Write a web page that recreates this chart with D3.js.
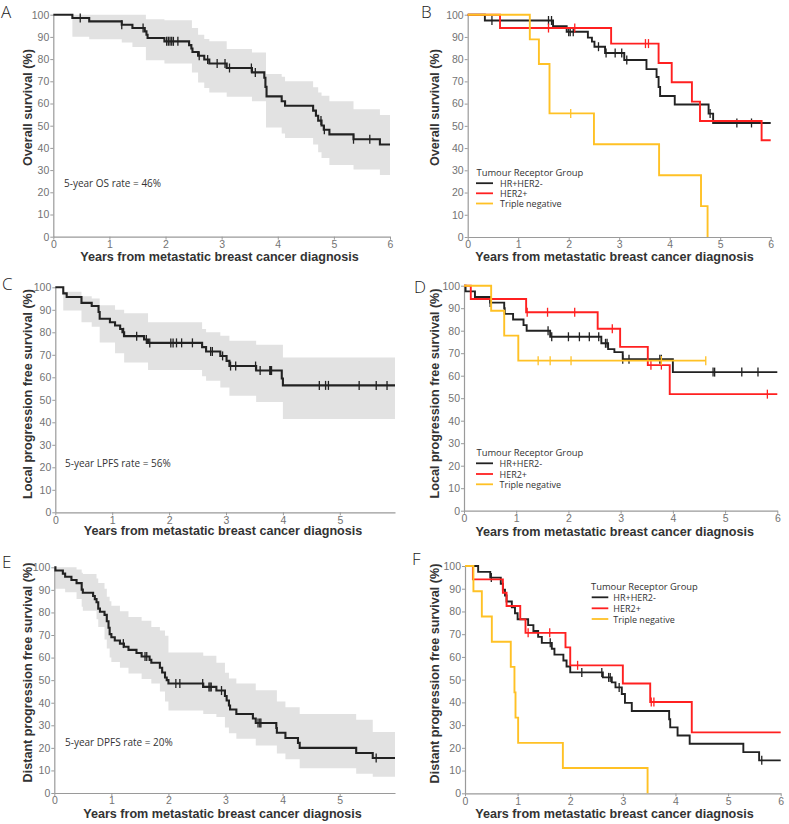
<!DOCTYPE html>
<html><head><meta charset="utf-8">
<script src="https://cdn.jsdelivr.net/npm/d3@7"></script>
<style>body{margin:0;background:#fff;} svg{display:block;}</style>
</head><body><svg id="c" width="789" height="824"></svg>
<script>
// ---------- DATA ----------
const xLabel = "Years from metastatic breast cancer diagnosis";
const groupNames = ["HR+HER2-", "HER2+", "Triple negative"];
const legendTitle = "Tumour Receptor Group";
const yTicks = [0,10,20,30,40,50,60,70,80,90,100];
const xTicksFull = [0,1,2,3,4,5,6];
const xTicksShort = [0,1,2,3,4,5];

// Panel A: overall survival, all patients
const osAllT = [0.34,0.64,1.22,1.41,1.63,1.66,1.68,1.98,2.42,2.46,2.48,2.58,2.69,2.78,3.09,3.54,3.76,3.78,3.80,4.07,4.13,4.63,4.68,4.72,4.78,4.82,4.92,5.35,5.82];
const osAllS = [98.5,97.0,95.5,94.0,92.5,91.0,89.5,88.0,86.3,84.8,83.2,81.5,79.8,78.0,76.0,74.0,71.6,67.5,63.2,61.0,59.0,56.8,54.5,52.3,50.1,48.2,46.1,43.9,41.5];
const osAllCens = [0.48,1.22,1.60,2.02,2.05,2.08,2.11,2.14,2.22,2.60,2.75,2.92,3.06,3.14,3.53,3.60,4.77,4.83,5.35,5.64];
const osAllCiT = [0,0.34,0.64,1.22,1.41,1.65,1.98,2.47,2.58,2.69,2.78,3.09,3.54,3.79,4.07,4.13,4.63,4.72,4.78,4.92,5.35,5.82];
const osAllCiLo = [100,90.1,88.9,87.5,85.5,79.5,78,74,69.5,67,65,63,61,49.2,46.5,44.5,41.5,38,35.5,32.3,30.3,27.8];
const osAllCiHi = [100,100,100,100,100,98,97.5,94,91,89,88,84.5,83,73.3,72,70,67.3,65,63.5,61,57.4,54.8];

// Panel B: overall survival by group
const osHrT = [0.34,1.69,1.96,2.38,2.46,2.51,2.72,3.10,3.54,3.74,3.78,3.81,4.10,4.77,4.86];
const osHrS = [97.4,94.8,92.3,89.7,87.9,85.6,82.8,79.6,75.5,72.0,67.5,63.4,59.6,55.5,51.3];
const osHrCens = [0.48,1.60,1.66,2.00,2.03,2.09,2.59,2.74,2.92,3.05,3.15,4.80,5.33,5.62];
const osHer2T = [0.64,2.84,3.78,4.04,4.44,4.60,5.82];
const osHer2S = [94.0,87.0,78.3,69.6,60.9,52.2,43.5];
const osHer2Cens = [1.60,2.12,3.52,3.58];
const osTnT = [1.23,1.41,1.62,2.50,3.79,4.62,4.75];
const osTnS = [88.9,77.8,55.6,41.7,27.8,13.9,0];
const osTnCens = [2.04];

// Panel C: local progression free survival, all patients
const lpfsAllT = [0.14,0.20,0.46,0.64,0.76,0.78,0.96,1.05,1.14,1.18,1.21,1.56,1.63,2.58,2.65,2.90,3.01,3.06,3.53,3.98,4.00];
const lpfsAllS = [97.3,95.7,93.1,91.7,89.0,86.0,84.5,83.0,81.5,80.0,78.3,76.8,75.3,73.4,71.5,69.5,67.3,65.0,63.0,59.5,56.4];
const lpfsAllCens = [1.20,1.43,1.60,1.66,2.03,2.07,2.13,2.22,2.41,2.73,2.76,2.94,3.08,3.17,3.52,3.60,3.77,3.78,3.80,4.64,4.75,4.80,5.34,5.64,5.83];
const lpfsAllCiT = [0,0.14,0.46,0.64,0.78,1.05,1.21,1.63,2.58,2.65,2.90,3.06,3.53,4.00];
const lpfsAllCiLo = [100,89.7,84.5,82.5,75.5,70.7,66.6,63.3,60.5,58.5,55.5,51.8,49,41.5];
const lpfsAllCiHi = [100,98,96,95,92,90,88.5,84.5,81.5,80,78.5,76.3,74.5,68.8];

// Panel D: local progression free survival by group
const lpfsHrT = [0.03,0.21,0.50,0.77,0.78,0.94,1.14,1.20,1.65,2.63,2.76,2.88,3.04,4.00];
const lpfsHrS = [97.5,95.0,92.5,90.0,87.5,85.0,82.5,80.0,77.3,74.4,71.8,70.5,67.3,61.6];
const lpfsHrCens = [0.50,1.61,1.68,2.00,2.21,2.40,2.58,2.71,2.74,3.04,3.16,3.75,3.78,4.77,4.80,5.32,5.63];
const lpfsHer2T = [0.13,1.19,2.56,2.99,3.52,3.94];
const lpfsHer2S = [94.1,88.2,80.9,72.8,64.7,51.8];
const lpfsHer2Cens = [1.21,1.60,2.12,2.84,3.58,3.78,5.81];
const lpfsTnT = [0.52,0.77,1.04];
const lpfsTnS = [88.9,77.8,66.7];
const lpfsTnCens = [1.42,1.65,2.05,3.78,4.63];

// Panel E: distant progression free survival, all patients
const dpfsAllT = [0.02,0.15,0.19,0.30,0.39,0.48,0.50,0.68,0.71,0.74,0.77,0.80,0.88,0.92,0.95,0.97,1.00,1.06,1.15,1.22,1.30,1.44,1.53,1.67,1.70,1.85,1.89,1.94,1.97,2.00,2.61,2.84,2.99,3.02,3.06,3.08,3.19,3.48,3.53,3.89,3.90,4.05,4.27,4.30,5.29,5.58];
const dpfsAllS = [98.6,97.2,95.8,94.4,93.0,90.1,88.7,87.3,85.9,84.5,81.7,80.3,78.9,76.1,73.2,70.4,69.0,67.6,66.2,64.8,63.4,62.0,60.5,59.0,57.7,55.5,53.4,51.2,50.0,48.5,47.0,45.4,43.0,41.0,38.8,37.0,35.0,33.0,31.0,28.8,26.7,24.4,22.2,20.0,17.7,15.5];
const dpfsAllCens = [1.21,1.59,1.62,2.13,2.20,2.60,2.71,2.73,2.75,2.93,3.57,3.60,3.62,5.64];
const dpfsAllCiT = [0,0.02,0.19,0.39,0.48,0.50,0.74,0.77,0.88,0.92,0.97,1.00,1.15,1.30,1.53,1.70,1.85,1.94,2.00,2.61,2.84,2.99,3.06,3.19,3.53,3.90,4.05,4.30,5.29,5.58];
const dpfsAllCiLo = [100,90.5,89,86,82.5,80.8,77,73.5,68,64,60,58,55.5,53,50.5,48.5,45,40.5,36.5,35,33.7,29,26.5,24,21,17.5,15,11,8.5,7.2];
const dpfsAllCiHi = [100,100,100,99,97.6,97,95,93,90.5,87,85,83,80.5,78,76.3,73.5,72,69.7,62.2,60.8,57.7,53.3,50.7,48.5,45.5,40.5,38,35,32.5,27];

// Panel F: distant progression free survival by group
const dpfsHrT = [0.25,0.48,0.68,0.72,0.76,0.79,0.89,0.95,1.00,1.20,1.30,1.39,1.46,1.65,1.70,1.87,1.93,2.00,2.62,2.79,2.86,2.98,3.04,3.17,3.88,3.90,4.04,4.27,5.29,5.59];
const dpfsHrS = [97.4,94.9,92.2,89.6,87.0,84.4,81.8,79.2,76.6,74.0,71.4,68.8,66.2,63.6,61.0,58.4,55.8,53.2,51.0,48.8,46.6,43.7,39.8,36.2,32.6,29.0,25.4,21.8,18.1,14.5];
const dpfsHrCens = [0.50,1.62,2.22,2.60,2.73,2.76,2.93,5.64];
const dpfsHer2T = [0.15,0.72,0.79,1.05,1.15,1.91,2.00,3.00,3.52,4.31];
const dpfsHer2S = [94.1,88.2,82.4,76.5,70.6,64.2,56.3,48.3,40.2,26.8];
const dpfsHer2Cens = [1.20,1.61,2.14,3.54,3.59];
const dpfsTnT = [0.16,0.32,0.51,0.87,0.94,0.96,1.01,1.86,3.47];
const dpfsTnS = [88.9,77.8,66.7,55.6,44.4,33.3,22.2,11.1,0];
const dpfsTnCens = [];

// ---------- DRAWING ----------
const svg = d3.select("#c");
const COL = {hr:"#222222", her2:"#ff2020", tn:"#ffc125", band:"#e2e2e2", axis:"#9a9a9a", tick:"#737373", text:"#333333"};
const SANS = "'Liberation Sans', Arial, sans-serif";
const OPEN = "'Open Sans', 'Noto Sans', sans-serif";

function valueAt(T, S, t) {
  let v = 100;
  for (let i = 0; i < T.length; i++) { if (T[i] <= t + 1e-9) v = S[i]; else break; }
  return v;
}

function drawPanel(p) {
  const g = svg.append("g");
  const x = d3.scaleLinear().domain([0, p.xmax]).range([p.x0, p.x1]);
  const y = d3.scaleLinear().domain([0, 100]).range([p.yb, p.yt]);

  if (p.band) {
    const b = p.band;
    const pts = b.T.map((t, i) => ({t, lo: b.lo[i], hi: b.hi[i]}));
    pts.push({t: p.xmax, lo: b.lo[b.lo.length-1], hi: b.hi[b.hi.length-1]});
    g.append("path").datum(pts)
      .attr("d", d3.area().curve(d3.curveStepAfter).x(d => x(d.t)).y0(d => y(d.lo)).y1(d => y(d.hi)))
      .attr("fill", COL.band);
  }

  const xa = g.append("g").attr("transform", `translate(0,${p.yb})`)
    .call(d3.axisBottom(x).tickValues(p.xticks).tickSize(3).tickSizeOuter(0).tickPadding(1).tickFormat(d3.format("d")));
  const ya = g.append("g").attr("transform", `translate(${p.x0},0)`)
    .call(d3.axisLeft(y).tickValues(yTicks).tickSize(3).tickSizeOuter(0).tickPadding(1).tickFormat(d3.format("d")));
  [xa, ya].forEach(a => {
    a.select(".domain").attr("stroke", COL.axis).attr("stroke-width", 1.2);
    a.selectAll(".tick line").attr("stroke", COL.axis);
    a.selectAll(".tick text").attr("fill", COL.tick).style("font-family", SANS).style("font-size", "10.5px");
  });

  p.curves.forEach(c => {
    const pts = [[0, 100]].concat(c.T.map((t, i) => [t, c.S[i]]));
    pts.push([c.end, c.S[c.S.length-1]]);
    g.append("path").datum(pts)
      .attr("d", d3.line().curve(d3.curveStepAfter).x(d => x(d[0])).y(d => y(d[1])))
      .attr("fill", "none").attr("stroke", c.color).attr("stroke-width", c.w || 1.9)
      .attr("stroke-linejoin", "miter");
    g.selectAll(null).data(c.cens).enter().append("line")
      .attr("x1", d => x(d)).attr("x2", d => x(d))
      .attr("y1", d => y(valueAt(c.T, c.S, d)) - 4.5)
      .attr("y2", d => y(valueAt(c.T, c.S, d)) + 4.5)
      .attr("stroke", c.color).attr("stroke-width", 1.3);
  });

  // axis titles
  g.append("text").attr("x", p.xlx).attr("y", p.xly).attr("text-anchor", "middle")
    .style("font-family", SANS).style("font-weight", "bold").style("font-size", "12.6px")
    .attr("fill", COL.text).text(xLabel);
  g.append("text").attr("transform", `translate(${p.ylx},${p.yly}) rotate(-90)`)
    .attr("text-anchor", "middle").attr("dominant-baseline", "central")
    .style("font-family", SANS).style("font-weight", "bold").style("font-size", "12.6px")
    .attr("fill", COL.text).text(p.ylabel);

  // panel letter
  g.append("text").attr("x", p.lx).attr("y", p.ly)
    .style("font-family", OPEN).style("font-size", "17px").style("font-weight", 300)
    .attr("fill", "#222").text(p.letter);

  if (p.note) {
    g.append("text").attr("x", p.note[0]).attr("y", p.note[1]).attr("dominant-baseline", "central")
      .style("font-family", OPEN).style("font-size", "10px").attr("fill", COL.text).text(p.note[2]);
  }

  if (p.legend) {
    const L = p.legend;
    g.append("text").attr("x", L.x).attr("y", L.ty).attr("dominant-baseline", "central")
      .style("font-family", OPEN).style("font-size", "9.4px").attr("fill", COL.text).text(legendTitle);
    const cols = [COL.hr, COL.her2, COL.tn];
    groupNames.forEach((n, i) => {
      g.append("line").attr("x1", L.lx0).attr("x2", L.lx1).attr("y1", L.ys[i]).attr("y2", L.ys[i])
        .attr("stroke", cols[i]).attr("stroke-width", 1.8);
      g.append("text").attr("x", L.tx).attr("y", L.ys[i]).attr("dominant-baseline", "central")
        .style("font-family", OPEN).style("font-size", "9px").attr("fill", COL.text).text(n);
    });
  }
}

drawPanel({letter:"A", lx:1, ly:18, x0:53.3, x1:390, xmax:6, yt:14.7, yb:236.7, xticks:xTicksFull,
  xlx:219.5, xly:260.5, ylx:27.5, yly:107.5, ylabel:"Overall survival (%)",
  band:{T:osAllCiT, lo:osAllCiLo, hi:osAllCiHi},
  curves:[{T:osAllT, S:osAllS, cens:osAllCens, end:6, color:COL.hr, w:2.1}],
  note:[64, 183, "5-year OS rate = 46%"]});

drawPanel({letter:"B", lx:421, ly:18, x0:467.7, x1:770.7, xmax:6, yt:14.7, yb:237, xticks:xTicksFull,
  xlx:614.5, xly:260.5, ylx:435, yly:107.5, ylabel:"Overall survival (%)",
  curves:[
    {T:osHrT, S:osHrS, cens:osHrCens, end:6, color:COL.hr},
    {T:osHer2T, S:osHer2S, cens:osHer2Cens, end:6, color:COL.her2},
    {T:osTnT, S:osTnS, cens:osTnCens, end:4.75, color:COL.tn}],
  legend:{x:476.5, ty:172.5, lx0:476, lx1:493, tx:500, ys:[183.2,193.3,203.5]}});

drawPanel({letter:"C", lx:2, ly:290, x0:55.3, x1:395, xmax:5.97, yt:287.3, yb:512.3, xticks:xTicksShort,
  xlx:223, xly:535, ylx:27.5, yly:394, ylabel:"Local progression free survival (%)",
  band:{T:lpfsAllCiT, lo:lpfsAllCiLo, hi:lpfsAllCiHi},
  curves:[{T:lpfsAllT, S:lpfsAllS, cens:lpfsAllCens, end:5.97, color:COL.hr, w:2.1}],
  note:[65, 463, "5-year LPFS rate = 56%"]});

drawPanel({letter:"D", lx:414, ly:293, x0:464, x1:777.3, xmax:6, yt:285.7, yb:510.7, xticks:xTicksFull,
  xlx:614.7, xly:535.5, ylx:435, yly:393.5, ylabel:"Local progression free survival (%)",
  curves:[
    {T:lpfsHrT, S:lpfsHrS, cens:lpfsHrCens, end:6, color:COL.hr},
    {T:lpfsHer2T, S:lpfsHer2S, cens:lpfsHer2Cens, end:6, color:COL.her2},
    {T:lpfsTnT, S:lpfsTnS, cens:lpfsTnCens, end:4.63, color:COL.tn}],
  legend:{x:476.5, ty:452.3, lx0:476, lx1:493, tx:499.5, ys:[463.3,474,484.3]}});

drawPanel({letter:"E", lx:2, ly:568, x0:54.3, x1:395, xmax:5.97, yt:567.3, yb:793, xticks:xTicksShort,
  xlx:222.5, xly:818, ylx:27.5, yly:672.5, ylabel:"Distant progression free survival (%)",
  band:{T:dpfsAllCiT, lo:dpfsAllCiLo, hi:dpfsAllCiHi},
  curves:[{T:dpfsAllT, S:dpfsAllS, cens:dpfsAllCens, end:5.97, color:COL.hr, w:2.1}],
  note:[65, 742, "5-year DPFS rate = 20%"]});

drawPanel({letter:"F", lx:412, ly:565, x0:465, x1:780.7, xmax:6, yt:566, yb:793.3, xticks:xTicksFull,
  xlx:614.5, xly:818, ylx:435, yly:673.5, ylabel:"Distant progression free survival (%)",
  curves:[
    {T:dpfsHrT, S:dpfsHrS, cens:dpfsHrCens, end:6, color:COL.hr},
    {T:dpfsHer2T, S:dpfsHer2S, cens:dpfsHer2Cens, end:6, color:COL.her2},
    {T:dpfsTnT, S:dpfsTnS, cens:dpfsTnCens, end:3.47, color:COL.tn}],
  legend:{x:591, ty:586, lx0:591.7, lx1:608.3, tx:613.3, ys:[597.3,608.3,619]}});
</script>
</body></html>
